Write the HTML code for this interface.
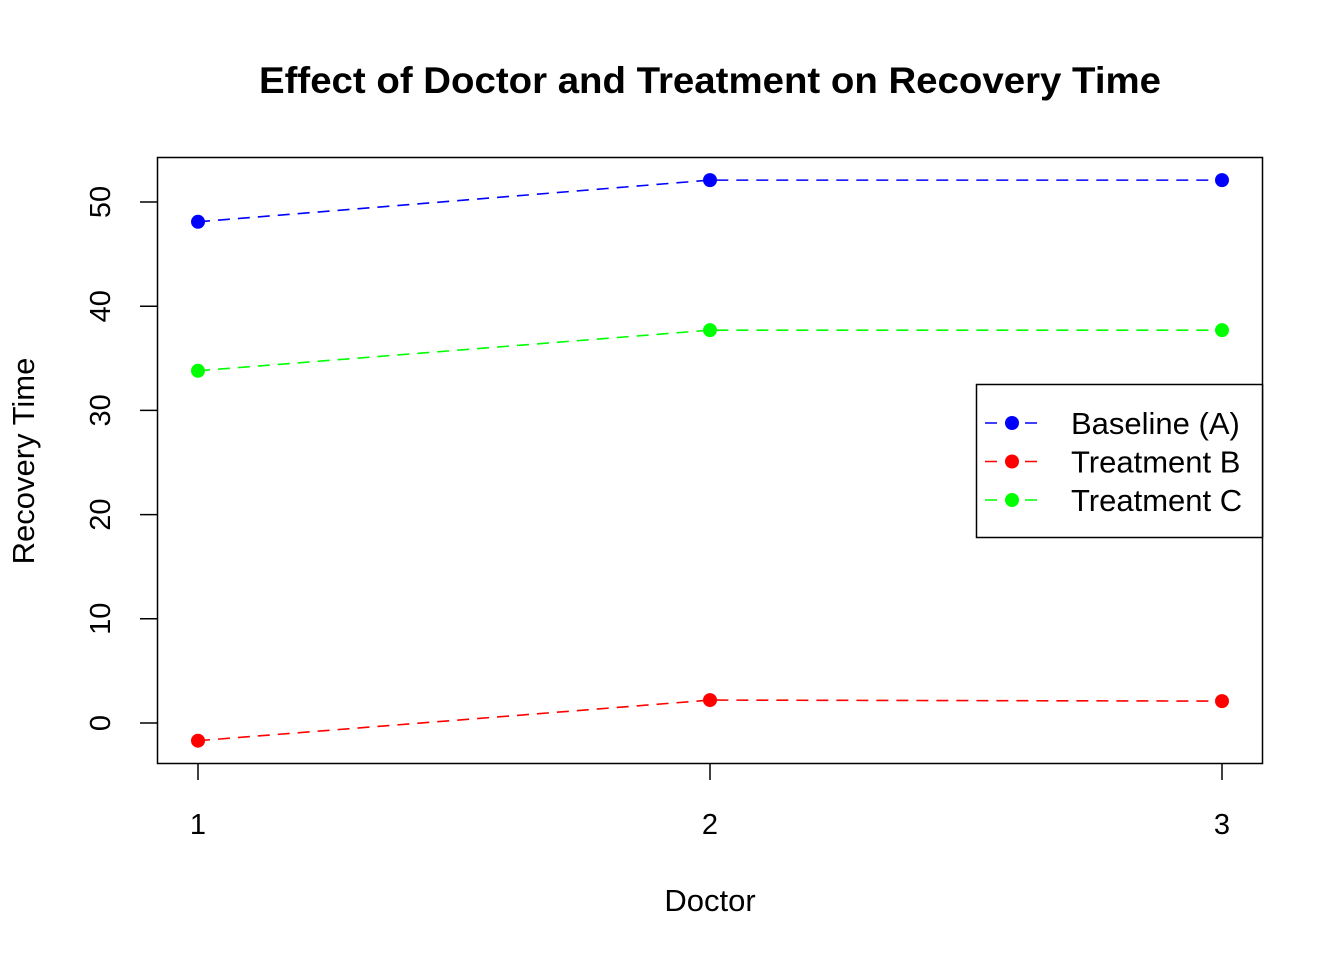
<!DOCTYPE html>
<html><head><meta charset="utf-8"><style>body{margin:0;background:#fff}svg{display:block}text{font-family:"Liberation Sans",Arial,sans-serif}</style></head>
<body>
<svg id="chart" width="1344" height="960" xmlns="http://www.w3.org/2000/svg">
<text x="710" y="93" text-anchor="middle" font-size="37" font-weight="bold" textLength="902" lengthAdjust="spacingAndGlyphs">Effect of Doctor and Treatment on Recovery Time</text>
<rect x="157.5" y="157.5" width="1105" height="606" fill="none" stroke="#000" stroke-width="1.5"/>
<text x="710" y="911" text-anchor="middle" font-size="31">Doctor</text>
<text transform="translate(34,461) rotate(-90)" text-anchor="middle" font-size="31">Recovery Time</text>
<g id="axes"></g>
<g id="series"></g>
<g>
<rect x="976.5" y="384.5" width="286" height="153" fill="#fff" stroke="#000" stroke-width="1.5"/>
<g id="legend"></g>
</g>
</svg>
<script>
const categories=[1,2,3];
const seriesNames=["Baseline (A)","Treatment B","Treatment C"];
const seriesColors=["#0000ff","#ff0000","#00ff00"];
const baseline=[48.1,52.1,52.1];
const treatmentB=[-1.7,2.2,2.1];
const treatmentC=[33.8,37.7,37.7];
const yTicks=[0,10,20,30,40,50];
const NS="http://www.w3.org/2000/svg";
const xs=v=>198+(v-1)*512;
const ys=v=>723-v*10.42;
function mk(tag,attrs,parent){const e=document.createElementNS(NS,tag);for(const k in attrs)e.setAttribute(k,attrs[k]);parent.appendChild(e);return e;}
const axes=document.getElementById('axes');
categories.forEach(c=>{
 const t=mk('line',{x1:xs(c),x2:xs(c),y1:763,y2:780,stroke:'#000','stroke-width':1.5},axes);
 
 
 const l=mk('text',{x:xs(c),y:834,'text-anchor':'middle','font-size':29},axes);
 l.textContent=c;
 
 
});
yTicks.forEach(v=>{
 const t=mk('line',{x1:140,x2:157,y1:ys(v),y2:ys(v),stroke:'#000','stroke-width':1.5},axes);
 
 
 const l=mk('text',{transform:`translate(110,${ys(v)}) rotate(-90)`,'text-anchor':'middle','font-size':29},axes);
 l.textContent=v;
 
 
});
const sg=document.getElementById('series');
[baseline,treatmentB,treatmentC].forEach((d,i)=>{
 const p=mk('polyline',{points:d.map((v,j)=>xs(categories[j])+','+ys(v)).join(' '),fill:'none',stroke:seriesColors[i],'stroke-width':1.6,'stroke-dasharray':'12 8'},sg);
 
 
 d.forEach((v,j)=>{
  const c=mk('circle',{cx:xs(categories[j]),cy:ys(v),r:7,fill:seriesColors[i]},sg);
  
  
 });
});
const lg=document.getElementById('legend');
seriesNames.forEach((n,i)=>{
 const y=423+i*38.5;
 const l=mk('line',{x1:985,x2:1040,y1:y,y2:y,stroke:seriesColors[i],'stroke-width':1.6,'stroke-dasharray':'12 8'},lg);
 
 
 const c=mk('circle',{cx:1012,cy:y,r:7,fill:seriesColors[i]},lg);
 
 
 const t=mk('text',{x:1071,y:y+11,'font-size':31},lg);
 t.textContent=n;
 
 
});
</script>
</body></html>
